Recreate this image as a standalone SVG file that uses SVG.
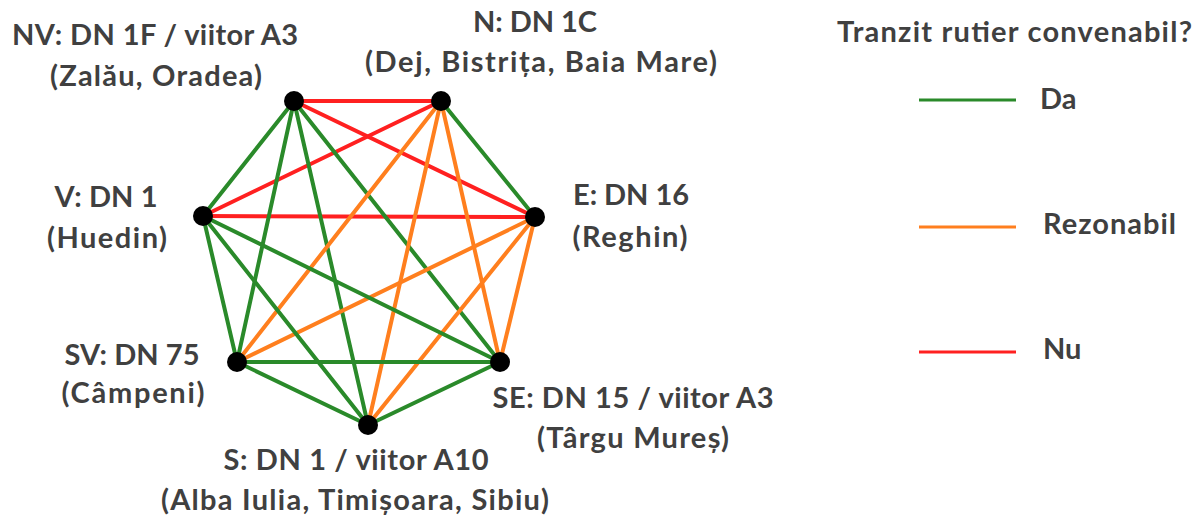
<svg xmlns="http://www.w3.org/2000/svg" width="1198" height="519" viewBox="0 0 1198 519">
<style>
text{font-family:Lato,"Open Sans","Liberation Sans",sans-serif;font-weight:700;font-size:29px;fill:#404040;text-anchor:middle}
.da{stroke:#2a8a2a;stroke-width:4;stroke-linecap:round}
.rz{stroke:#ff7f1e;stroke-width:4;stroke-linecap:round}
.nu{stroke:#ff2020;stroke-width:4;stroke-linecap:round}
.node circle{fill:#000}
.leg text{text-anchor:start}
</style>
<rect width="1198" height="519" fill="#fff"/>
<g id="connectors">
<line class="nu" x1="294" y1="101" x2="441" y2="101"/>
<line class="nu" x1="294" y1="101" x2="535" y2="217"/>
<line class="nu" x1="441" y1="101" x2="203" y2="216"/>
<line class="nu" x1="203" y1="216" x2="535" y2="217"/>
<line class="da" x1="294" y1="101" x2="203" y2="216"/>
<line class="da" x1="294" y1="101" x2="237" y2="362"/>
<line class="da" x1="294" y1="101" x2="368" y2="425"/>
<line class="da" x1="294" y1="101" x2="500" y2="362"/>
<line class="da" x1="441" y1="101" x2="535" y2="217"/>
<line class="rz" x1="441" y1="101" x2="500" y2="362"/>
<line class="rz" x1="441" y1="101" x2="368" y2="425"/>
<line class="rz" x1="441" y1="101" x2="237" y2="362"/>
<line class="rz" x1="535" y1="217" x2="500" y2="362"/>
<line class="rz" x1="535" y1="217" x2="368" y2="425"/>
<line class="rz" x1="535" y1="217" x2="237" y2="362"/>
<line class="da" x1="203" y1="216" x2="237" y2="362"/>
<line class="da" x1="203" y1="216" x2="368" y2="425"/>
<line class="da" x1="203" y1="216" x2="500" y2="362"/>
<line class="da" x1="237" y1="362" x2="500" y2="362"/>
<line class="da" x1="237" y1="362" x2="368" y2="425"/>
<line class="da" x1="368" y1="425" x2="500" y2="362"/>
</g>
<g id="node-nv" class="node"><circle cx="294" cy="101" r="10"/><text x="155" y="45" textLength="286" lengthAdjust="spacing">NV: DN 1F / viitor A3</text><text x="156" y="86" textLength="212" lengthAdjust="spacing">(Zalău, Oradea)</text></g>
<g id="node-n" class="node"><circle cx="441" cy="101" r="10"/><text x="535" y="32" textLength="124" lengthAdjust="spacing">N: DN 1C</text><text x="541" y="72" textLength="352" lengthAdjust="spacing">(Dej, Bistrița, Baia Mare)</text></g>
<g id="node-e" class="node"><circle cx="535" cy="217" r="10"/><text x="631" y="205" textLength="116" lengthAdjust="spacing">E: DN 16</text><text x="630" y="247" textLength="115" lengthAdjust="spacing">(Reghin)</text></g>
<g id="node-se" class="node"><circle cx="500" cy="362" r="10"/><text x="633" y="408" textLength="281" lengthAdjust="spacing">SE: DN 15 / viitor A3</text><text x="633" y="448" textLength="192" lengthAdjust="spacing">(Târgu Mureș)</text></g>
<g id="node-s" class="node"><circle cx="368" cy="425" r="10"/><text x="356" y="470" textLength="265" lengthAdjust="spacing">S: DN 1 / viitor A10</text><text x="355" y="510" textLength="388" lengthAdjust="spacing">(Alba Iulia, Timișoara, Sibiu)</text></g>
<g id="node-sv" class="node"><circle cx="237" cy="362" r="10"/><text x="132" y="365" textLength="135" lengthAdjust="spacing">SV: DN 75</text><text x="133" y="403" textLength="143" lengthAdjust="spacing">(Câmpeni)</text></g>
<g id="node-v" class="node"><circle cx="203" cy="216" r="10"/><text x="106" y="207" textLength="103" lengthAdjust="spacing">V: DN 1</text><text x="107" y="248" textLength="120" lengthAdjust="spacing">(Huedin)</text></g>
<g id="legend" class="leg">
<text x="837" y="42" textLength="355" lengthAdjust="spacing">Tranzit rutier convenabil?</text>
<line x1="919" y1="100" x2="1016" y2="100" stroke="#2a8a2a" stroke-width="3"/>
<text x="1040" y="109">Da</text>
<line x1="919" y1="227" x2="1016" y2="227" stroke="#ff7f1e" stroke-width="3"/>
<text x="1043" y="234" textLength="133" lengthAdjust="spacing">Rezonabil</text>
<line x1="919" y1="352" x2="1016" y2="352" stroke="#ff2020" stroke-width="3"/>
<text x="1043" y="359">Nu</text>
</g>
</svg>
